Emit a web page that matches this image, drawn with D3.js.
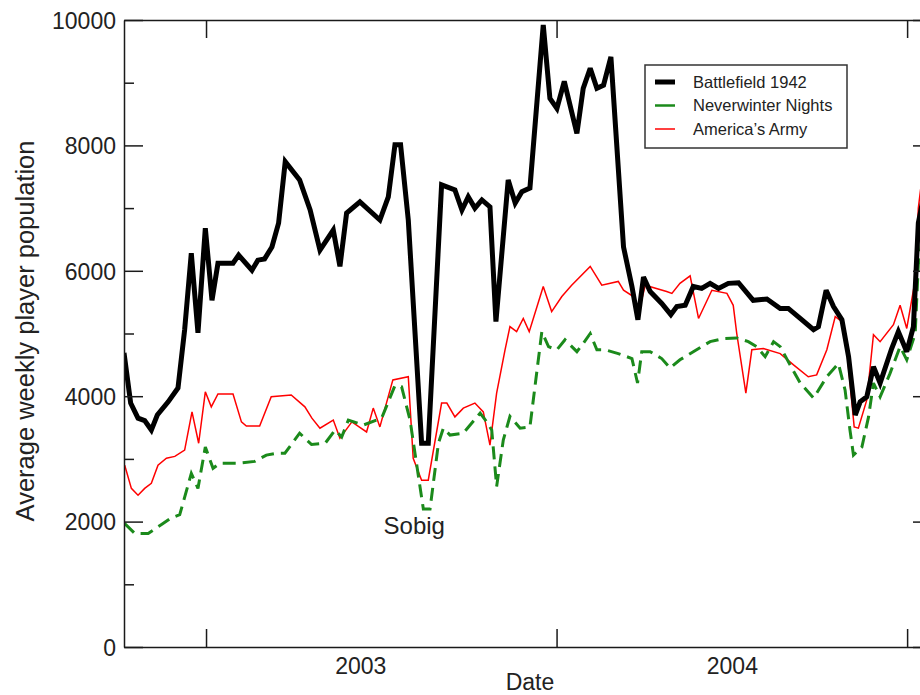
<!DOCTYPE html>
<html>
<head>
<meta charset="utf-8">
<script src="https://cdn.jsdelivr.net/npm/d3@7"></script>
<style>
  html, body { margin: 0; padding: 0; background: #fff; }
  svg { display: block; font-family: "Liberation Sans", Arial, Helvetica, sans-serif; }
  .axis path, .axis line { stroke: #1a1a1a; stroke-width: 1.5; }
  .axis text { fill: #222; font-size: 23px; }
  .label { fill: #222; font-size: 23px; }
  .legend text { fill: #222; font-size: 16.5px; }
</style>
</head>
<body>
<div id="app"></div>
<script>
// weekly averages, x = decimal year
const battlefield1942 = [
  [2002.766, 4690], [2002.785, 3890], [2002.806, 3650], [2002.825, 3610], [2002.844, 3460],
  [2002.861, 3700], [2002.892, 3910], [2002.920, 4130], [2002.939, 5060], [2002.958, 6280],
  [2002.977, 5010], [2002.998, 6680], [2003.017, 5530], [2003.034, 6120], [2003.077, 6120],
  [2003.093, 6250], [2003.131, 6010], [2003.148, 6170], [2003.167, 6190], [2003.188, 6380],
  [2003.207, 6760], [2003.226, 7740], [2003.267, 7450], [2003.297, 6970], [2003.325, 6330],
  [2003.363, 6650], [2003.382, 6070], [2003.401, 6920], [2003.439, 7100], [2003.496, 6810],
  [2003.520, 7180], [2003.539, 8010], [2003.555, 8010], [2003.577, 6810], [2003.615, 3250],
  [2003.634, 3250], [2003.672, 7370], [2003.710, 7290], [2003.730, 6970], [2003.748, 7180],
  [2003.767, 7000], [2003.787, 7130], [2003.810, 7020], [2003.827, 5190], [2003.862, 7450],
  [2003.882, 7080], [2003.901, 7260], [2003.924, 7320], [2003.962, 9920], [2003.981, 8750],
  [2004.001, 8590], [2004.022, 9020], [2004.058, 8190], [2004.076, 8910], [2004.096, 9230],
  [2004.115, 8910], [2004.134, 8960], [2004.155, 9410], [2004.191, 6380], [2004.215, 5750],
  [2004.232, 5220], [2004.248, 5900], [2004.267, 5670], [2004.300, 5480], [2004.326, 5300],
  [2004.343, 5430], [2004.367, 5450], [2004.390, 5750], [2004.414, 5720], [2004.438, 5800],
  [2004.462, 5720], [2004.490, 5800], [2004.519, 5810], [2004.561, 5530], [2004.600, 5550],
  [2004.638, 5400], [2004.661, 5400], [2004.695, 5240], [2004.733, 5060], [2004.747, 5110],
  [2004.769, 5690], [2004.790, 5430], [2004.814, 5220], [2004.833, 4630], [2004.852, 3700],
  [2004.866, 3910], [2004.885, 3990], [2004.904, 4470], [2004.923, 4210], [2004.956, 4760],
  [2004.975, 5030], [2004.999, 4710], [2005.018, 5110], [2005.032, 6760], [2005.051, 7300]
];

const neverwinterNights = [
  [2002.768, 1970], [2002.797, 1810], [2002.835, 1810], [2002.872, 1950], [2002.901, 2060],
  [2002.925, 2110], [2002.958, 2770], [2002.977, 2530], [2002.998, 3190], [2003.020, 2850],
  [2003.039, 2930], [2003.091, 2930], [2003.139, 2960], [2003.172, 3060], [2003.201, 3090],
  [2003.225, 3090], [2003.267, 3410], [2003.301, 3230], [2003.340, 3250], [2003.368, 3460],
  [2003.387, 3350], [2003.406, 3620], [2003.449, 3540], [2003.501, 3650], [2003.539, 4170],
  [2003.558, 4150], [2003.582, 3620], [2003.606, 2720], [2003.620, 2200], [2003.639, 2200],
  [2003.663, 3250], [2003.677, 3490], [2003.696, 3380], [2003.734, 3410], [2003.782, 3730],
  [2003.801, 3590], [2003.815, 3460], [2003.829, 2560], [2003.848, 3300], [2003.867, 3680],
  [2003.896, 3490], [2003.924, 3510], [2003.958, 5030], [2003.977, 4790], [2004.001, 4740],
  [2004.024, 4900], [2004.058, 4710], [2004.076, 4840], [2004.096, 5000], [2004.115, 4740],
  [2004.138, 4740], [2004.176, 4680], [2004.215, 4600], [2004.231, 4210], [2004.243, 4710],
  [2004.267, 4710], [2004.300, 4600], [2004.324, 4450], [2004.352, 4580], [2004.390, 4710],
  [2004.438, 4870], [2004.476, 4920], [2004.514, 4930], [2004.547, 4870], [2004.571, 4790],
  [2004.595, 4630], [2004.619, 4870], [2004.638, 4790], [2004.666, 4500], [2004.695, 4210],
  [2004.733, 3970], [2004.771, 4310], [2004.804, 4520], [2004.823, 4100], [2004.837, 3460],
  [2004.847, 3060], [2004.871, 3190], [2004.890, 3670], [2004.904, 4210], [2004.923, 3990],
  [2004.951, 4360], [2004.980, 4790], [2004.999, 4580], [2005.023, 5000], [2005.032, 6100],
  [2005.051, 6800]
];

const americasArmy = [
  [2002.768, 2900], [2002.787, 2530], [2002.806, 2420], [2002.825, 2530], [2002.844, 2610],
  [2002.863, 2900], [2002.887, 3010], [2002.911, 3040], [2002.939, 3140], [2002.960, 3750],
  [2002.979, 3250], [2002.998, 4070], [2003.015, 3830], [2003.034, 4035], [2003.077, 4035],
  [2003.101, 3590], [2003.115, 3525], [2003.153, 3525], [2003.186, 3990], [2003.243, 4020],
  [2003.282, 3830], [2003.302, 3650], [2003.325, 3490], [2003.363, 3620], [2003.382, 3330],
  [2003.416, 3590], [2003.458, 3430], [2003.477, 3810], [2003.496, 3510], [2003.533, 4260],
  [2003.577, 4310], [2003.591, 3010], [2003.615, 2660], [2003.634, 2660], [2003.672, 3890],
  [2003.687, 3890], [2003.710, 3670], [2003.734, 3810], [2003.767, 3890], [2003.791, 3750],
  [2003.810, 3220], [2003.829, 4050], [2003.853, 4740], [2003.867, 5110], [2003.886, 5030],
  [2003.905, 5240], [2003.922, 5030], [2003.962, 5750], [2003.986, 5350], [2004.015, 5590],
  [2004.043, 5770], [2004.096, 6070], [2004.129, 5770], [2004.176, 5830], [2004.191, 5690],
  [2004.219, 5590], [2004.231, 5270], [2004.253, 5770], [2004.314, 5670], [2004.329, 5640],
  [2004.352, 5800], [2004.381, 5920], [2004.405, 5240], [2004.443, 5690], [2004.486, 5640],
  [2004.504, 5450], [2004.514, 5000], [2004.540, 4050], [2004.557, 4740], [2004.590, 4760],
  [2004.638, 4680], [2004.676, 4500], [2004.718, 4310], [2004.742, 4340], [2004.771, 4740],
  [2004.795, 5270], [2004.814, 5190], [2004.828, 4740], [2004.849, 3510], [2004.861, 3490],
  [2004.885, 3940], [2004.904, 4980], [2004.923, 4870], [2004.961, 5140], [2004.980, 5450],
  [2004.999, 5080], [2005.023, 5850], [2005.032, 7000], [2005.043, 7500]
];

const Y_TICKS = [0, 2000, 4000, 6000, 8000, 10000];
const Y_MINOR = [1000, 3000, 5000, 7000, 9000];
const YEAR_TICKS = [2003, 2004, 2005];
const YEAR_LABELS = ["2003", "2004"];
const YEAR_LABEL_AT = [2003.44, 2004.50];
const SOBIG = { text: "Sobig", date: 2003.594, value: 1800 };

const SERIES = [
  { name: "Battlefield 1942", data: battlefield1942, color: "#000", width: 5, dash: null, key: 5 },
  { name: "Neverwinter Nights", data: neverwinterNights, color: "#1b8a1b", width: 3, dash: "13,7", key: 2.5 },
  { name: "America\u2019s Army", data: americasArmy, color: "#ff0000", width: 1.5, dash: null, key: 1.5 }
];

const margin = {top: 20, right: -12, bottom: 48, left: 124}
    , width = 920 - margin.left - margin.right
    , height = 695 - margin.top - margin.bottom;

const x = d3.scaleLinear()
    .domain([2002.766, 2005.071])
    .range([0, width]);

const y = d3.scaleLinear()
    .domain([0, 10000])
    .range([height, 0]);

const svg = d3.select("#app").append("svg")
    .attr("width", 920)
    .attr("height", 695)
  .append("g")
    .attr("transform", `translate(${margin.left}, ${margin.top})`);

svg.append("clipPath")
    .attr("id", "plot-clip")
  .append("rect")
    .attr("width", width)
    .attr("height", height);

// lines
const line = d3.line()
    .x(d => x(d[0]))
    .y(d => y(d[1]))
    .curve(d3.curveLinear);

svg.append("g")
    .attr("clip-path", "url(#plot-clip)")
  .selectAll(".series")
    .data(SERIES.slice().reverse())
  .enter().append("path")
    .attr("class", "series")
    .attr("d", d => line(d.data))
    .attr("fill", "none")
    .attr("stroke", d => d.color)
    .attr("stroke-width", d => d.width)
    .attr("stroke-dasharray", d => d.dash)
    .attr("stroke-linejoin", "miter")
    .attr("stroke-miterlimit", 3);

// y axes (ticks pointing inward, mirrored on the right)
svg.append("g")
    .attr("class", "axis")
    .call(d3.axisLeft(y).tickValues(Y_TICKS).tickSizeInner(-19).tickSizeOuter(0).tickPadding(8).tickFormat(d3.format("d")))
    .call(g => g.selectAll("text").attr("dy", "0.36em"));

svg.append("g")
    .attr("class", "axis")
    .call(d3.axisLeft(y).tickValues(Y_MINOR).tickSize(-10).tickFormat(""))
    .call(g => g.select(".domain").remove());

svg.append("g")
    .attr("class", "axis")
    .attr("transform", `translate(${width}, 0)`)
    .call(d3.axisRight(y).tickValues(Y_TICKS).tickSizeInner(-19).tickSizeOuter(0).tickFormat(""));

svg.append("g")
    .attr("class", "axis")
    .attr("transform", `translate(${width}, 0)`)
    .call(d3.axisRight(y).tickValues(Y_MINOR).tickSize(-10).tickFormat(""))
    .call(g => g.select(".domain").remove());

// x axes
svg.append("g")
    .attr("class", "axis")
    .attr("transform", `translate(0, ${height})`)
    .call(d3.axisBottom(x).tickValues(YEAR_TICKS).tickSizeInner(-18).tickSizeOuter(0).tickFormat(""));

svg.append("g")
    .attr("class", "axis")
    .call(d3.axisTop(x).tickValues(YEAR_TICKS).tickSizeInner(-18).tickSizeOuter(0).tickFormat(""));

svg.append("g")
    .attr("class", "axis")
    .attr("transform", `translate(0, ${height})`)
    .call(d3.axisBottom(x).tickValues(YEAR_LABEL_AT).tickSize(0).tickPadding(11).tickFormat((d, i) => YEAR_LABELS[i]))
    .call(g => g.select(".domain").remove());

// axis labels
svg.append("text")
    .attr("class", "label")
    .attr("x", 530 - margin.left)
    .attr("y", height + 43)
    .attr("text-anchor", "middle")
    .text("Date");

svg.append("text")
    .attr("class", "label")
    .attr("transform", `translate(${34 - margin.left}, ${331 - margin.top}) rotate(-90)`)
    .attr("text-anchor", "middle")
    .style("font-size", "25.5px")
    .text("Average weekly player population");

// annotation
svg.append("text")
    .attr("class", "label")
    .attr("x", x(SOBIG.date))
    .attr("y", y(SOBIG.value))
    .attr("text-anchor", "middle")
    .style("font-size", "24px")
    .text(SOBIG.text);

// legend
const legend = svg.append("g")
    .attr("class", "legend")
    .attr("transform", `translate(${645 - margin.left}, ${65 - margin.top})`);

legend.append("rect")
    .attr("width", 202)
    .attr("height", 83)
    .attr("fill", "#fff")
    .attr("stroke", "#333")
    .attr("stroke-width", 1.5);

const item = legend.selectAll(".item")
    .data(SERIES)
  .enter().append("g")
    .attr("class", "item")
    .attr("transform", (d, i) => `translate(0, ${17 + i * 23.5})`);

item.append("line")
    .attr("x1", 10)
    .attr("x2", 30)
    .attr("stroke", d => d.color)
    .attr("stroke-width", d => d.key);

item.append("text")
    .attr("x", 48)
    .attr("dy", "0.36em")
    .text(d => d.name);
</script>
</body>
</html>
